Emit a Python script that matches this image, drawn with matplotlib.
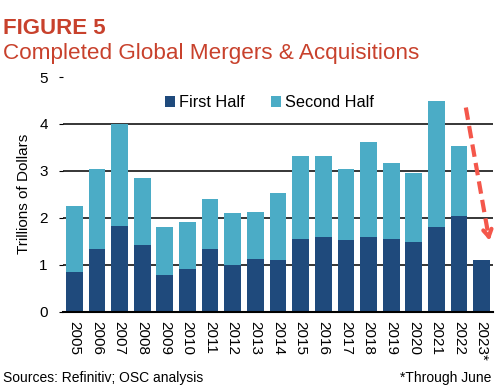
import matplotlib.pyplot as plt
import numpy as np

plt.rcParams['font.family'] = ['Liberation Sans', 'DejaVu Sans']

years = ['2005', '2006', '2007', '2008', '2009', '2010', '2011', '2012', '2013', '2014',
         '2015', '2016', '2017', '2018', '2019', '2020', '2021', '2022', '2023*']
first_half = [0.85, 1.34, 1.83, 1.42, 0.79, 0.90, 1.33, 0.99, 1.12, 1.11,
              1.54, 1.59, 1.52, 1.60, 1.55, 1.48, 1.81, 2.04, 1.09]
second_half = [1.40, 1.70, 2.17, 1.42, 1.02, 1.01, 1.08, 1.11, 1.00, 1.41,
               1.77, 1.72, 1.52, 2.01, 1.62, 1.48, 2.67, 1.48, 0.0]

dark = '#1f4a7c'
light = '#4bacc6'
red = '#c8412c'

fig = plt.figure(figsize=(5, 3.91), dpi=100)
ax = fig.add_axes([0.126, 0.203, 0.86, 0.60])

x = np.arange(len(years))
ax.bar(x, first_half, width=0.74, color=dark, label='First Half', zorder=2)
ax.bar(x, second_half, width=0.74, bottom=first_half, color=light, label='Second Half', zorder=2)

ax.set_xlim(-0.5, len(years) - 0.5)
ax.set_ylim(0, 5)
ax.set_yticks(range(6))
ax.yaxis.grid(True, color='black', linewidth=1.1, zorder=0)
ax.yaxis.get_gridlines()[-1].set_visible(False)
ax.set_axisbelow(True)
for s in ['top', 'right', 'left']:
    ax.spines[s].set_visible(False)
ax.spines['bottom'].set_linewidth(1.5)
ax.set_xticks(x)
ax.set_xticklabels(years, rotation=270, fontsize=11)
ax.tick_params(axis='x', length=0, pad=7)
ax.tick_params(axis='y', labelsize=11, length=3, direction='out', pad=8)
ax.set_ylabel('Trillions of Dollars', fontsize=11, labelpad=6)

ax.legend(loc='center', bbox_to_anchor=(0.48, 0.89), ncol=2, frameon=False,
          fontsize=11.7, handlelength=0.6, handleheight=0.6, handletextpad=0.25,
          columnspacing=1.65)

# red dashed downward trend arrow
ax.plot([17.3, 18.3], [4.35, 1.62], color='#f4574b', lw=3, ls=(0, (3, 1.5)),
        clip_on=False, zorder=3)
ax.annotate('', xy=(18.37, 1.46), xytext=(18.28, 1.68),
            arrowprops=dict(arrowstyle='->,head_length=0.5,head_width=0.3',
                            color='#f4574b', lw=3), annotation_clip=False, zorder=3)

fig.text(0.006, 0.912, 'FIGURE 5', fontsize=16, fontweight='bold', color=red, va='baseline')
fig.text(0.006, 0.85, 'Completed Global Mergers & Acquisitions', fontsize=16.2, color=red,
         va='baseline')
fig.text(0.006, 0.022, 'Sources: Refinitiv; OSC analysis', fontsize=10, va='baseline')
fig.text(0.982, 0.022, '*Through June', fontsize=10, ha='right', va='baseline')

fig.savefig('out.png', dpi=100)
